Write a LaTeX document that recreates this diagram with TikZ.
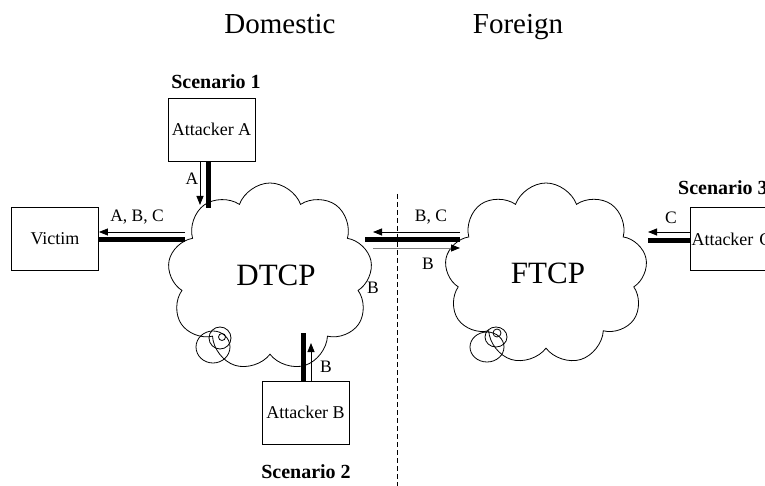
\documentclass[tikz,border=0pt]{standalone}
\usepackage{fontspec}
\setmainfont{Liberation Serif}
\usetikzlibrary{shapes.symbols,arrows.meta}
\begin{document}
\begin{tikzpicture}[x=1pt,y=-1pt,
  boxnode/.style={draw,line width=0.8pt,minimum width=87pt,minimum height=63pt,inner sep=0pt,font=\fontsize{18}{21}\selectfont},
  cloudnode/.style={cloud,draw,line width=0.8pt,cloud puffs=9,cloud puff arc=140,cloud ignores aspect,inner sep=0pt},
  heavy/.style={line width=5pt},
  thinarrow/.style={line width=0.8pt,-{Triangle[length=9pt,width=7pt,color=black]}},
  lbl/.style={font=\fontsize{17.5}{20}\selectfont,inner sep=0pt},
  scen/.style={font=\bfseries\fontsize{20}{23}\selectfont,inner sep=0pt},
  title/.style={font=\fontsize{29}{32}\selectfont,inner sep=0pt,anchor=base},
  cloudtext/.style={font=\fontsize{31}{34}\selectfont,inner sep=0pt},
  swirl/.style={line width=0.8pt}]
\clip (0,0) rectangle (765,486);
\useasboundingbox (0,0) rectangle (765,486);
% titles
\node[title] (dom) at (280,34) {Domestic};
\node[title] (for) at (518,34) {Foreign};
% dashed divider
\coordinate (divtop) at (397,194);
\coordinate (divbot) at (397,486);
\draw[line width=0.8pt,dash pattern=on 5pt off 3pt] (divtop) -- (divbot);
% clouds
\node[cloudnode,minimum width=205pt,minimum height=188pt] (dtcp) at (270,277) {};
\node[cloudtext] (dtcptext) at (276,275) {DTCP};
\node[cloudnode,minimum width=203pt,minimum height=182pt] (ftcp) at (546,274) {};
\node[cloudtext] (ftcptext) at (548,273) {FTCP};
% swirls
\draw[swirl] (222,337) circle[radius=3.5];
\draw[swirl] (220,338) ellipse[x radius=11,y radius=11];
\draw[swirl] (213,347) ellipse[x radius=17,y radius=16];
\draw[swirl] (497,333) circle[radius=4];
\draw[swirl] (496,337) ellipse[x radius=11,y radius=10];
\draw[swirl] (487,347) ellipse[x radius=17,y radius=15];
% boxes
\node[boxnode] (victim) at (55,239) {Victim};
\node[boxnode] (atta) at (211.5,129.5) {Attacker A};
\node[boxnode] (attb) at (305.5,412.5) {Attacker B};
\node[boxnode,text width=84pt,align=left] (attc) at (733.5,239) {Attacker C};
% scenario labels
\node[scen] (s1) at (216,82) {Scenario 1};
\node[scen] (s2) at (306,472) {Scenario 2};
\node[scen,anchor=west] (s3) at (678,188) {Scenario 3};
% edge coordinates on clouds
\coordinate (dV1) at (185,240);
\coordinate (dV2) at (185,232);
\coordinate (dA1) at (208,208);
\coordinate (dA2) at (200,205);
\coordinate (dB1) at (303,333);
\coordinate (dB2) at (311,343);
\coordinate (dF1) at (365,240);
\coordinate (dF2) at (373,232);
\coordinate (dF3) at (373,248);
\coordinate (fD1) at (460,240);
\coordinate (fD2) at (460,232);
\coordinate (fD3) at (460,248);
\coordinate (fC1) at (648,241);
\coordinate (fC2) at (648,232);
% victim link
\draw[heavy] (victim.east |- dV1) -- (dV1);
\draw[thinarrow] (dV2) -- (victim.east |- dV2);
\node[lbl] (labc) at (137,217) {A, B, C};
% attacker A link
\draw[heavy] (atta.south -| dA1) -- (dA1);
\draw[thinarrow] (atta.south -| dA2) -- (dA2);
\node[lbl] (la) at (192,179) {A};
% attacker B link
\draw[heavy] (attb.north -| dB1) -- (dB1);
\draw[thinarrow] (attb.north -| dB2) -- (dB2);
\node[lbl] (lb) at (326,367) {B};
% DTCP - FTCP link
\draw[heavy] (dF1) -- (fD1);
\draw[thinarrow] (fD2) -- (dF2);
\draw[thinarrow,draw=gray] (dF3) -- (fD3);
\node[lbl] (lbc) at (431,217) {B, C};
\node[lbl] (lb2) at (428,264) {B};
\node[lbl] (lb3) at (373,288) {B};
% attacker C link
\draw[heavy] (attc.west |- fC1) -- (fC1);
\draw[thinarrow] (attc.west |- fC2) -- (fC2);
\node[lbl] (lc) at (671,218) {C};
\end{tikzpicture}
\end{document}
